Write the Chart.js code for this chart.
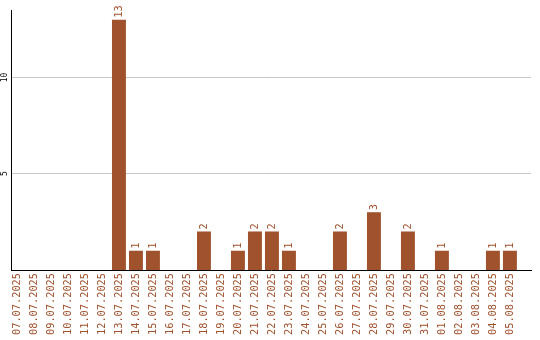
<!DOCTYPE html>
<html>
<head>
<meta charset="utf-8">
<script src="https://cdn.jsdelivr.net/npm/chart.js@4/dist/chart.umd.min.js"></script>
<style>
  html, body { margin: 0; padding: 0; background: #fff; }
  #wrap { width: 540px; height: 340px; }
</style>
</head>
<body>
<div id="wrap"><canvas id="chart" width="540" height="340"></canvas></div>
<script>
// days shown on the x axis
const dates = ['07.07.2025', '08.07.2025', '09.07.2025', '10.07.2025', '11.07.2025',
  '12.07.2025', '13.07.2025', '14.07.2025', '15.07.2025', '16.07.2025',
  '17.07.2025', '18.07.2025', '19.07.2025', '20.07.2025', '21.07.2025',
  '22.07.2025', '23.07.2025', '24.07.2025', '25.07.2025', '26.07.2025',
  '27.07.2025', '28.07.2025', '29.07.2025', '30.07.2025', '31.07.2025',
  '01.08.2025', '02.08.2025', '03.08.2025', '04.08.2025', '05.08.2025']
// count per day
const counts = [0, 0, 0, 0, 0, 0, 13, 1, 1, 0,
  0, 2, 0, 1, 2, 2, 1, 0, 0, 2,
  0, 3, 0, 2, 0, 1, 0, 0, 1, 1]
const yTicks = [5, 10]

const brown = '#a0522d'
const mono = 'DejaVu Sans Mono'

// numbers above the bars, turned like the date labels
const valueLabels = {
  id: 'valueLabels',
  afterDatasetsDraw(chart) {
    const ctx = chart.ctx
    const meta = chart.getDatasetMeta(0)
    ctx.save()
    ctx.fillStyle = brown
    ctx.font = '10.3px "' + mono + '"'
    ctx.textAlign = 'left'
    ctx.textBaseline = 'middle'
    meta.data.forEach((bar, i) => {
      if (!counts[i]) return
      ctx.save()
      ctx.translate(bar.x, bar.y - 2)
      ctx.rotate(-Math.PI / 2)
      ctx.fillText(String(counts[i]), 0, 0)
      ctx.restore()
    })
    ctx.restore()
  }
}

// y tick labels are drawn rotated, so Chart.js' own ones are hidden
const yLabels = {
  id: 'yLabels',
  afterDraw(chart) {
    const ctx = chart.ctx
    const y = chart.scales.y
    ctx.save()
    ctx.fillStyle = '#000'
    ctx.font = '8px "' + mono + '"'
    ctx.textAlign = 'center'
    ctx.textBaseline = 'middle'
    yTicks.forEach(v => {
      ctx.save()
      ctx.translate(5, y.getPixelForValue(v))
      ctx.rotate(-Math.PI / 2)
      ctx.fillText(String(v), 0, 0)
      ctx.restore()
    })
    ctx.restore()
  }
}

const ctx = document.getElementById('chart').getContext('2d')
new Chart(ctx, {
  type: 'bar',
  data: {
    datasets: [{
      data: counts.map((v, i) => ({ x: i, y: v })),
      backgroundColor: brown,
      borderWidth: 0,
      categoryPercentage: 1,
      barPercentage: 0.82
    }]
  },
  options: {
    responsive: false,
    animation: false,
    layout: { padding: { left: 11, top: 10, right: 9, bottom: 0 } },
    plugins: { legend: { display: false }, tooltip: { enabled: false } },
    scales: {
      x: {
        type: 'linear',
        offset: false,
        min: -0.35,
        max: 30.24,
        grid: { display: false, drawTicks: false, offset: false },
        border: { display: true, color: '#000', width: 1 },
        afterBuildTicks: scale => { scale.ticks = dates.map((d, i) => ({ value: i })) },
        afterFit: scale => { scale.height = 70 },
        ticks: {
          autoSkip: false,
          minRotation: 90,
          maxRotation: 90,
          padding: 3,
          color: brown,
          font: { family: mono, size: 10.3 },
          callback: v => dates[v]
        }
      },
      y: {
        min: 0,
        max: 13.5,
        afterBuildTicks: scale => { scale.ticks = yTicks.map(v => ({ value: v })) },
        afterFit: scale => { scale.width = 0 },
        grid: { color: '#c8c8c8', drawTicks: false },
        border: { display: true, color: '#000', width: 1 },
        ticks: { display: false }
      }
    }
  },
  plugins: [valueLabels, yLabels]
})
</script>
</body>
</html>
